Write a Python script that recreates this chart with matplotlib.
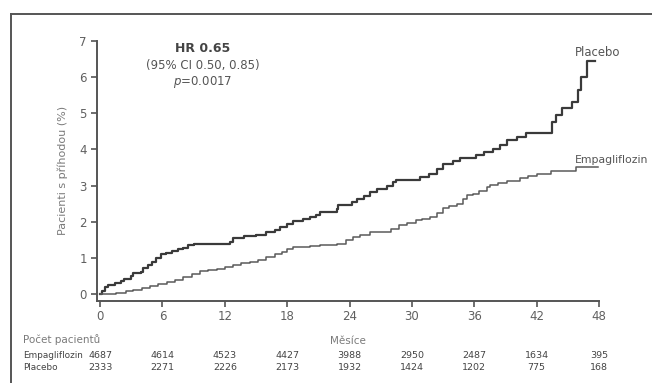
import matplotlib
matplotlib.use("Agg")
import matplotlib.pyplot as plt
from matplotlib.lines import Line2D

# Kaplan-Meier style cumulative incidence (%), read as step breakpoints
placebo_t = [0, 0.2, 0.5, 0.8, 1.4, 2.0, 2.3, 3.0, 3.2, 3.9, 4.1, 4.6, 5.0, 5.4, 5.9,
             6.3, 6.9, 7.5, 8.0, 8.5, 9.0, 12.5, 12.8, 13.8, 15.0, 16.0, 16.8, 17.3,
             18.0, 18.6, 19.5, 20.2, 20.8, 21.2, 22.8, 22.9, 24.2, 24.7, 25.4, 26.0,
             26.6, 27.6, 28.2, 28.5, 30.8, 31.6, 32.4, 33.0, 34.0, 34.6, 36.2, 36.9,
             37.8, 38.5, 39.1, 40.1, 41.0, 43.5, 43.9, 44.4, 45.4, 46.0, 46.3, 46.8, 47.6]
placebo_y = [0, 0.10, 0.20, 0.25, 0.30, 0.38, 0.43, 0.50, 0.58, 0.62, 0.72, 0.80, 0.90,
             1.00, 1.10, 1.15, 1.20, 1.25, 1.28, 1.35, 1.40, 1.45, 1.55, 1.60, 1.65,
             1.72, 1.78, 1.86, 1.95, 2.02, 2.08, 2.14, 2.20, 2.27, 2.35, 2.46, 2.55,
             2.64, 2.72, 2.83, 2.92, 3.00, 3.10, 3.15, 3.24, 3.33, 3.47, 3.61, 3.68,
             3.75, 3.84, 3.93, 4.02, 4.12, 4.25, 4.35, 4.46, 4.76, 4.94, 5.13, 5.31,
             5.64, 6.00, 6.45, 6.45]

empa_t = [0, 1.5, 2.5, 3.2, 4.0, 4.8, 5.6, 6.4, 7.2, 8.0, 8.8, 9.6, 10.4, 11.2, 12.0,
          12.8, 13.6, 14.4, 15.2, 16.0, 16.8, 17.5, 18.0, 18.6, 20.2, 21.2, 22.8, 23.7,
          24.3, 25.0, 26.0, 28.0, 28.8, 29.5, 30.4, 31.0, 31.7, 32.4, 33.0, 33.6, 34.3,
          34.9, 35.3, 35.9, 36.5, 37.2, 37.5, 38.3, 39.1, 40.4, 41.2, 42.0, 43.4, 45.8, 47.9]
empa_y = [0, 0.03, 0.08, 0.11, 0.16, 0.22, 0.28, 0.34, 0.40, 0.48, 0.56, 0.64, 0.68,
          0.71, 0.76, 0.80, 0.85, 0.90, 0.96, 1.03, 1.10, 1.18, 1.25, 1.30, 1.33, 1.35,
          1.40, 1.50, 1.58, 1.65, 1.72, 1.80, 1.90, 1.96, 2.04, 2.09, 2.14, 2.25, 2.38,
          2.45, 2.50, 2.62, 2.73, 2.78, 2.85, 2.95, 3.02, 3.06, 3.12, 3.20, 3.26, 3.33,
          3.41, 3.50, 3.50]

x_ticks = [0, 6, 12, 18, 24, 30, 36, 42, 48]
y_ticks = [0, 1, 2, 3, 4, 5, 6, 7]
risk_empa = [4687, 4614, 4523, 4427, 3988, 2950, 2487, 1634, 395]
risk_placebo = [2333, 2271, 2226, 2173, 1932, 1424, 1202, 775, 168]

TXT = "#555555"
LIGHT = "#7a7a7a"

W, H = 652, 383
fig = plt.figure(figsize=(W / 100, H / 100), dpi=100)
fig.patch.set_facecolor("white")

# outer frame (top and left edges)
fig.add_artist(Line2D([11 / W, 1.0], [1 - 14 / H, 1 - 14 / H], color="#555555", lw=1.4,
                      transform=fig.transFigure))
fig.add_artist(Line2D([11 / W, 11 / W], [0, 1 - 14 / H], color="#555555", lw=1.4,
                      transform=fig.transFigure))

left, right = 96.7 / W, 599 / W
bottom, top = 1 - 300.7 / H, 1 - 40.7 / H
ax = fig.add_axes([left, bottom, right - left, top - bottom])
ax.set_facecolor("none")

ax.plot(placebo_t, placebo_y, drawstyle="steps-post", color="#3a3a3a", lw=1.6)
ax.plot(empa_t, empa_y, drawstyle="steps-post", color="#5a5a5a", lw=1.1)

ax.set_xlim(-0.33, 48)
ax.set_ylim(-0.177, 7)
ax.set_xticks(x_ticks)
ax.set_yticks(y_ticks)
for s in ("top", "right"):
    ax.spines[s].set_visible(False)
for s in ("left", "bottom"):
    ax.spines[s].set_color("#555555")
    ax.spines[s].set_linewidth(1.4)
ax.spines["left"].set_bounds(-0.177, 7)
ax.tick_params(direction="out", length=4, width=1.2, color="#555555",
               labelsize=8.5, labelcolor="#606060", pad=3)

ax.set_ylabel("Pacienti s příhodou (%)", fontsize=8, color=LIGHT, labelpad=8)
ax.set_xlabel("Měsíce", fontsize=7.5, color=LIGHT, labelpad=9)

ax.text(45.7, 6.68, "Placebo", fontsize=8.4, color=TXT, ha="left", va="center",
        clip_on=False)
ax.text(45.7, 3.72, "Empagliflozin", fontsize=7.8, color=TXT, ha="left", va="center",
        clip_on=False)

ax.text(9.9, 6.78, "HR 0.65", fontsize=9, fontweight="bold", color="#444444",
        ha="center", va="center")
ax.text(9.9, 6.31, "(95% CI 0.50, 0.85)", fontsize=8.5, color=TXT, ha="center", va="center")
ax.text(9.9, 5.87, r"$\it{p}$=0.0017", fontsize=8.5, color=TXT, ha="center", va="center")

# number-at-risk table
tr = ax.get_xaxis_transform()
fig.text(23 / W, 1 - 340 / H, "Počet pacientů", fontsize=7.5, color=LIGHT,
         ha="left", va="center")
fig.text(23 / W, 1 - 355 / H, "Empagliflozin", fontsize=6.4, color="#444444",
         ha="left", va="center")
fig.text(23 / W, 1 - 368 / H, "Placebo", fontsize=6.4, color="#444444",
         ha="left", va="center")
y_row1 = (1 - 355 / H - bottom) / (top - bottom)
y_row2 = (1 - 368 / H - bottom) / (top - bottom)
for xt, a, b in zip(x_ticks, risk_empa, risk_placebo):
    ax.text(xt, y_row1, str(a), transform=tr, fontsize=6.8, color="#444444",
            ha="center", va="center", clip_on=False)
    ax.text(xt, y_row2, str(b), transform=tr, fontsize=6.8, color="#444444",
            ha="center", va="center", clip_on=False)

fig.savefig("out.png", dpi=100, facecolor="white")
